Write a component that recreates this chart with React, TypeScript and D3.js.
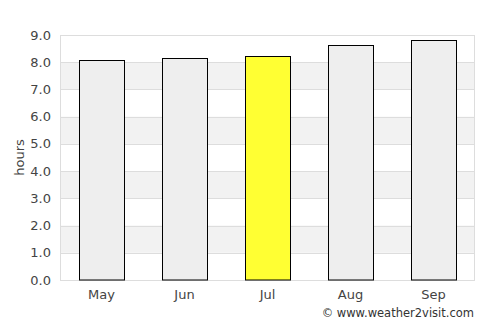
import React, { useEffect, useRef } from 'react';
import * as d3 from 'd3';

const months = ['May', 'Jun', 'Jul', 'Aug', 'Sep'];
const hours = [8.07, 8.14, 8.22, 8.62, 8.8];
const highlight = 'Jul';
const yTicks = [0, 1, 2, 3, 4, 5, 6, 7, 8, 9];

const App = () => {
  const svgRef = useRef<SVGSVGElement>(null);

  useEffect(() => {
    const width = 500;
    const height = 325;
    const margin = { top: 35, right: 25, bottom: 45, left: 60 };
    const font = 'DejaVu Sans, sans-serif';

    const svg = d3.select(svgRef.current).attr('width', width).attr('height', height);
    svg.selectAll('*').remove();

    const x = d3
      .scaleBand()
      .domain(months)
      .range([margin.left, width - margin.right])
      .paddingInner(0.46)
      .paddingOuter(0.23);

    const y = d3.scaleLinear().domain([0, 9]).range([height - margin.bottom, margin.top]);

    // alternating bands
    svg
      .append('g')
      .selectAll('rect')
      .data(yTicks.slice(0, -1).filter((d) => d % 2 === 1))
      .enter()
      .append('rect')
      .attr('x', margin.left)
      .attr('width', width - margin.left - margin.right)
      .attr('y', (d) => y(d + 1))
      .attr('height', (d) => y(d) - y(d + 1))
      .attr('fill', '#f2f2f2');

    // grid lines
    svg
      .append('g')
      .selectAll('line')
      .data(yTicks)
      .enter()
      .append('line')
      .attr('x1', margin.left)
      .attr('x2', width - margin.right)
      .attr('y1', (d) => Math.round(y(d)) + 0.5)
      .attr('y2', (d) => Math.round(y(d)) + 0.5)
      .attr('stroke', '#dddddd');

    // plot frame
    svg
      .append('rect')
      .attr('x', margin.left + 0.5)
      .attr('y', margin.top + 0.5)
      .attr('width', width - margin.left - margin.right - 1)
      .attr('height', height - margin.top - margin.bottom)
      .attr('fill', 'none')
      .attr('stroke', '#dddddd');

    // bars
    svg
      .append('g')
      .selectAll('rect')
      .data(months)
      .enter()
      .append('rect')
      .attr('x', (d) => Math.round(x(d)!) + 0.5)
      .attr('width', Math.round(x.bandwidth()))
      .attr('y', (d, i) => Math.round(y(hours[i])) + 0.5)
      .attr('height', (d, i) => y(0) - Math.round(y(hours[i])) - 0.5)
      .attr('fill', (d) => (d === highlight ? '#ffff33' : '#eeeeee'))
      .attr('stroke', '#000')
      .attr('stroke-width', 1);

    // y tick labels
    svg
      .append('g')
      .selectAll('text')
      .data(yTicks)
      .enter()
      .append('text')
      .attr('x', 51)
      .attr('y', (d) => y(d))
      .attr('dy', '0.35em')
      .attr('text-anchor', 'end')
      .attr('font-family', font)
      .attr('font-size', 13)
      .attr('fill', '#444')
      .text((d) => d.toFixed(1));

    // x tick labels
    svg
      .append('g')
      .selectAll('text')
      .data(months)
      .enter()
      .append('text')
      .attr('x', (d) => x(d)! + x.bandwidth() / 2)
      .attr('y', 299)
      .attr('text-anchor', 'middle')
      .attr('font-family', font)
      .attr('font-size', 13)
      .attr('fill', '#444')
      .text((d) => d);

    // y axis title
    svg
      .append('text')
      .attr('transform', `translate(24,${(margin.top + height - margin.bottom) / 2}) rotate(-90)`)
      .attr('text-anchor', 'middle')
      .attr('font-family', font)
      .attr('font-size', 13)
      .attr('fill', '#444')
      .text('hours');

    // credit
    svg
      .append('text')
      .attr('x', 474)
      .attr('y', 317)
      .attr('text-anchor', 'end')
      .attr('font-family', font)
      .attr('font-size', 11.5)
      .attr('fill', '#333')
      .text('© www.weather2visit.com');
  }, []);

  return (
    <div style={{ position: 'absolute', left: 0, top: 0 }}>
      <svg ref={svgRef} style={{ display: 'block' }} />
    </div>
  );
};

export default App;
